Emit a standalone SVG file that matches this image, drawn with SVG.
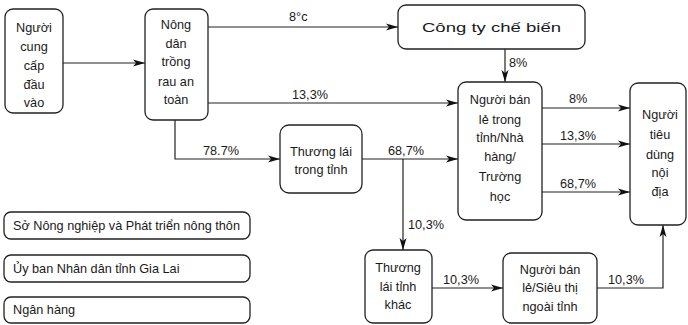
<svg xmlns="http://www.w3.org/2000/svg" width="688" height="325" viewBox="0 0 688 325">
<style>
.box{fill:#fff;stroke:#222;stroke-width:1.3}
.t{font-family:"Liberation Sans",Arial,sans-serif;font-size:12.7px;fill:#1a1a1a;text-anchor:middle}
.l{font-family:"Liberation Sans",Arial,sans-serif;font-size:12.7px;fill:#1a1a1a}
.c{fill:none;stroke:#222;stroke-width:1.2;marker-end:url(#ah)}
</style>
<defs>
<marker id="ah" viewBox="0 0 12 8" refX="12" refY="4" markerWidth="12" markerHeight="8" markerUnits="userSpaceOnUse" orient="auto">
<path d="M0,0.5 L12,4 L0,7.5 L3,4 Z" fill="#111"/>
</marker>
</defs>
<rect width="688" height="325" fill="#fff"/>
<g id="connectors">
<line class="c" x1="63" y1="63" x2="145" y2="63"/>
<line class="c" x1="208" y1="27" x2="398" y2="27"/>
<line class="c" x1="208" y1="103" x2="458" y2="103"/>
<polyline class="c" points="175,120 175,159 280,159"/>
<line class="c" x1="362" y1="159" x2="458" y2="159"/>
<line class="c" x1="403" y1="159" x2="403" y2="250"/>
<line class="c" x1="505" y1="49" x2="505" y2="82"/>
<line class="c" x1="542" y1="108" x2="630" y2="108"/>
<line class="c" x1="542" y1="144" x2="630" y2="144"/>
<line class="c" x1="542" y1="192" x2="630" y2="192"/>
<line class="c" x1="432" y1="288" x2="503" y2="288"/>
<polyline class="c" points="597,288 663,288 663,225"/>
<text class="l" x="289" y="21">8°c</text>
<text class="l" x="292" y="99">13,3%</text>
<text class="l" x="203" y="155">78.7%</text>
<text class="l" x="388" y="155">68,7%</text>
<text class="l" x="408" y="229">10,3%</text>
<text class="l" x="509" y="67">8%</text>
<text class="l" x="569" y="103">8%</text>
<text class="l" x="560" y="140">13,3%</text>
<text class="l" x="560" y="188">68,7%</text>
<text class="l" x="443" y="284">10,3%</text>
<text class="l" x="608" y="284">10,3%</text>
</g>
<g id="n1">
<rect class="box" x="5" y="9" width="58" height="104" rx="8"/>
<text class="t" x="34" y="32">Người</text>
<text class="t" x="34" y="51">cung</text>
<text class="t" x="34" y="70">cấp</text>
<text class="t" x="34" y="89">đầu</text>
<text class="t" x="34" y="107">vào</text>
</g>
<g id="n2">
<rect class="box" x="145" y="9" width="63" height="111" rx="8"/>
<text class="t" x="176" y="29">Nông</text>
<text class="t" x="176" y="48">dân</text>
<text class="t" x="176" y="66">trồng</text>
<text class="t" x="176" y="86">rau an</text>
<text class="t" x="176" y="104">toàn</text>
</g>
<g id="n3">
<rect class="box" x="398" y="5" width="187" height="44" rx="8"/>
<text class="l" x="422" y="32" textLength="139" lengthAdjust="spacingAndGlyphs" style="font-size:13.5px">Công ty chế biến</text>
</g>
<g id="n4">
<rect class="box" x="458" y="82" width="84" height="138" rx="8"/>
<text class="t" x="500" y="104">Người bán</text>
<text class="t" x="500" y="124">lẻ trong</text>
<text class="t" x="500" y="142">tỉnh/Nhà</text>
<text class="t" x="500" y="161">hàng/</text>
<text class="t" x="500" y="181">Trường</text>
<text class="t" x="500" y="201">học</text>
</g>
<g id="n5">
<rect class="box" x="630" y="83" width="56" height="142" rx="8"/>
<text class="t" x="660" y="119">Người</text>
<text class="t" x="660" y="139">tiêu</text>
<text class="t" x="660" y="159">dùng</text>
<text class="t" x="660" y="177">nội</text>
<text class="t" x="660" y="196">địa</text>
</g>
<g id="n6">
<rect class="box" x="280" y="125" width="82" height="68" rx="9"/>
<text class="t" x="321" y="156">Thương lái</text>
<text class="t" x="321" y="174">trong tỉnh</text>
</g>
<g id="n7">
<rect class="box" x="365" y="250" width="67" height="73" rx="8"/>
<text class="t" x="398" y="272">Thương</text>
<text class="t" x="398" y="291">lái tỉnh</text>
<text class="t" x="398" y="309">khác</text>
</g>
<g id="n8">
<rect class="box" x="503" y="253" width="94" height="70" rx="8"/>
<text class="t" x="550" y="274">Người bán</text>
<text class="t" x="550" y="292">lẻ/Siêu thị</text>
<text class="t" x="550" y="311">ngoài tỉnh</text>
</g>
<g id="n9">
<rect class="box" x="4" y="212" width="246" height="27" rx="7"/>
<text class="l" x="13" y="230">Sở Nông nghiệp và Phát triển nông thôn</text>
</g>
<g id="n10">
<rect class="box" x="4" y="255" width="246" height="27" rx="7"/>
<text class="l" x="13" y="273">Ủy ban Nhân dân tỉnh Gia Lai</text>
</g>
<g id="n11">
<rect class="box" x="4" y="297" width="246" height="26" rx="7"/>
<text class="l" x="13" y="314">Ngân hàng</text>
</g>
</svg>
